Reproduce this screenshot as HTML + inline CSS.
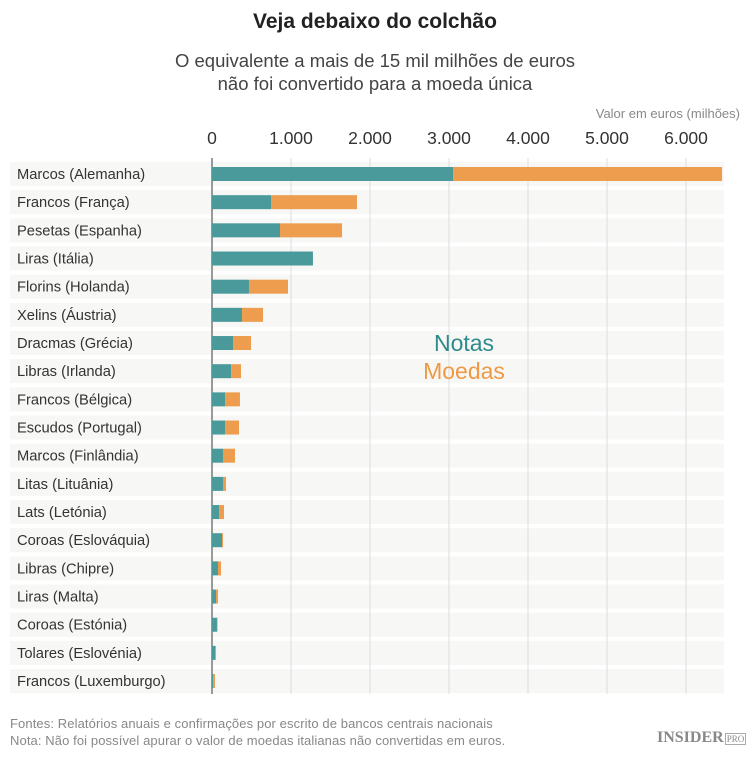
<!DOCTYPE html>
<html><head><meta charset="utf-8"><style>
body{margin:0;background:#fff;font-family:"Liberation Sans",sans-serif;}
#wrap{position:relative;width:750px;height:760px;overflow:hidden}
.t{position:absolute;left:0;width:750px;text-align:center}
</style></head><body>
<div id="wrap">
<div class="t" style="top:10px;font-size:21px;font-weight:bold;color:#222">Veja debaixo do colchão</div>
<div class="t" style="top:49px;font-size:18.5px;color:#444;line-height:23px">O equivalente a mais de 15 mil milhões de euros<br>não foi convertido para a moeda única</div>
<svg id="svg" width="750" height="760" style="position:absolute;left:0;top:0"></svg>
<div style="position:absolute;left:10px;top:715px;font-size:13px;color:#888;line-height:17px;letter-spacing:0.1px">Fontes: Relatórios anuais e confirmações por escrito de bancos centrais nacionais<br>Nota: Não foi possível apurar o valor de moedas italianas não convertidas em euros.</div>
<div style="position:absolute;left:657px;top:729px;font-family:'Liberation Serif',serif;font-weight:bold;font-size:16px;color:#888">INSIDER<span style="font-size:9px;font-weight:normal;border:1px solid #aaa;padding:0 1px;margin-left:1px">PRO</span></div>
</div>
<script>
const categories=["Marcos (Alemanha)","Francos (França)","Pesetas (Espanha)","Liras (Itália)","Florins (Holanda)","Xelins (Áustria)","Dracmas (Grécia)","Libras (Irlanda)","Francos (Bélgica)","Escudos (Portugal)","Marcos (Finlândia)","Litas (Lituânia)","Lats (Letónia)","Coroas (Eslováquia)","Libras (Chipre)","Liras (Malta)","Coroas (Estónia)","Tolares (Eslovénia)","Francos (Luxemburgo)"];
const notas=[3051,747,861,1278,468,380,266,241,165,165,139,139,89,127,76,51,63,38,13];
const moedas=[3405,1088,785,0,494,266,228,126,189,177,152,38,63,12,38,25,7,13,25];
const ticks=[0,1000,2000,3000,4000,5000,6000];
const tickLabels=["0","1.000","2.000","3.000","4.000","5.000","6.000"];
const NS="http://www.w3.org/2000/svg",svg=document.getElementById("svg");
const x=v=>212+v*0.079, y=i=>174+i*28.17;
function mk(t,a){const e=document.createElementNS(NS,t);for(const k in a)e.setAttribute(k,a[k]);svg.appendChild(e);return e;}
categories.forEach((c,i)=>{
 const r=mk("rect",{x:10,y:y(i)-12,width:714,height:24,fill:"#f7f7f5"});
 
 
});
ticks.forEach((t,i)=>{
 const l=mk("line",{x1:x(t),x2:x(t),y1:158,y2:694,stroke:t==0?"#999":"#ddd","stroke-width":t==0?2:1});
 
 
 const tx=mk("text",{x:x(t),y:144,"text-anchor":"middle","font-size":17.5,fill:"#333"});tx.textContent=tickLabels[i];
 
 
});
const at=mk("text",{x:740,y:118,"text-anchor":"end","font-size":13,fill:"#888"});at.textContent="Valor em euros (milhões)";


categories.forEach((c,i)=>{
 const lb=mk("text",{x:17,y:y(i)+5,"font-size":14.7,fill:"#333"});lb.textContent=c;
 
 
 const b1=mk("rect",{x:x(0),y:y(i)-7,width:x(notas[i])-x(0),height:14,fill:"#4a9a9c"});
 
 
 const b2=mk("rect",{x:x(notas[i]),y:y(i)-7,width:x(notas[i]+moedas[i])-x(notas[i]),height:14,fill:"#ee9d4e"});
 
 
});
const l1=mk("text",{x:464,y:351,"text-anchor":"middle","font-size":23,fill:"#2f8a8c"});l1.textContent="Notas";


const l2=mk("text",{x:464,y:379,"text-anchor":"middle","font-size":23,fill:"#ee9a45"});l2.textContent="Moedas";


</script>
</body></html>
